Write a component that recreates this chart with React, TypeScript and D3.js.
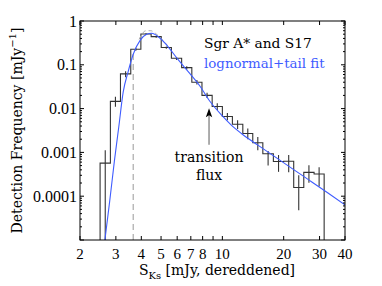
import React from 'react';
import * as d3 from 'd3';

// histogram bin edges (mJy) and detection frequencies (mJy^-1)
const binEdges = [2.51, 2.82, 3.16, 3.55, 3.98, 4.47, 5.01, 5.62, 6.31, 7.08, 7.94, 8.91, 10.0, 11.2, 12.6, 14.1, 15.8, 17.8, 20.0, 22.4, 25.1, 28.2, 31.6];
const freq = [0.00057, 0.0146, 0.062, 0.226, 0.505, 0.44, 0.248, 0.141, 0.086, 0.040, 0.020, 0.0112, 0.0066, 0.0044, 0.0027, 0.00166, 0.00093, 0.00062, 0.00063, 0.000158, 0.00035, 0.00032];
const errLow = [0, 0.011, 0.052, 0.209, 0.479, 0.417, 0.234, 0.129, 0.078, 0.0355, 0.0174, 0.0093, 0.0054, 0.0034, 0.0020, 0.00112, 0.0005, 0.00036, 0.00035, 0.000048, 0.000204, 0.000166];
const errHigh = [0.00112, 0.0186, 0.0708, 0.245, 0.525, 0.457, 0.263, 0.151, 0.093, 0.0447, 0.0229, 0.0132, 0.0079, 0.0054, 0.0035, 0.00224, 0.00107, 0.00087, 0.00087, 0.0003, 0.00051, 0.00046];

// lognormal + tail fit
const fitS = [2.65, 2.80, 2.95, 3.10, 3.26, 3.45, 3.65, 3.96, 4.25, 4.50, 4.85, 5.33, 6.08, 6.93, 7.8, 8.7, 10.0, 11.0, 12.4, 15.0, 18.0, 22.3, 27.0, 33.0, 40.0];
const fitF = [1e-5, 7.9e-5, 6.3e-4, 0.0038, 0.024, 0.071, 0.174, 0.372, 0.50, 0.525, 0.437, 0.282, 0.129, 0.063, 0.0316, 0.0145, 0.0068, 0.0043, 0.0027, 0.00145, 0.00081, 0.00041, 0.000224, 0.000118, 0.000063];

// lognormal component (grey dashed, visible near the peak)
const lognS = [3.9, 4.05, 4.22, 4.45, 4.7, 5.0, 5.4];
const lognF = [0.38, 0.52, 0.60, 0.60, 0.52, 0.40, 0.27];

const xTicks = [2, 3, 4, 5, 6, 7, 8, 9, 10, 20, 30, 40];
const xTickLabels = ['2', '3', '4', '5', '6', '7', '8', '', '10', '20', '30', '40'];
const yMajor = [1, 0.1, 0.01, 0.001, 0.0001, 0.00001];
const yTickLabels = ['1', '0.1', '0.01', '0.001', '0.0001', ''];

const cutFlux = 3.65;
const cutTop = 0.2;
const transitionFlux = 8.6;
const arrowTip = 0.0102;
const arrowBase = 0.0015;

export default function App() {
  const W = 382, H = 286;
  const L = 80, R = 345, T = 21, B = 240;
  const x = d3.scaleLog().domain([2, 40]).range([L, R]);
  const y = d3.scaleLog().domain([1e-5, 1]).range([B, T]).clamp(true);

  let hist = `M${x(binEdges[0])},${B}`;
  freq.forEach((f, i) => {
    hist += `L${x(binEdges[i])},${y(f)}L${x(binEdges[i + 1])},${y(f)}`;
  });
  hist += `L${x(binEdges[binEdges.length - 1])},${B}`;

  const line = d3.line<[number, number]>().x(d => x(d[0])).y(d => y(d[1])).curve(d3.curveMonotoneX);
  const fitPath = line(fitS.map((s, i) => [s, fitF[i]]) as [number, number][]) || '';
  const lognPath = line(lognS.map((s, i) => [s, lognF[i]]) as [number, number][]) || '';

  const yAll = y.ticks();
  const yMinor = yAll.filter(v => !yMajor.some(m => Math.abs(v / m - 1) < 1e-6));

  const serif = 'DejaVu Serif';
  const numFont = 'Liberation Serif';
  const blue = '#3f5cff';
  const ax = x(transitionFlux);
  const tipY = y(arrowTip);

  return (
    <svg width={W} height={H} style={{ position: 'absolute', left: 0, top: 0, background: '#fff' }}>
      <defs>
        <clipPath id="plotClip">
          <rect x={L} y={T} width={R - L} height={B - T} />
        </clipPath>
      </defs>
      <rect x={0} y={0} width={W} height={H} fill="#fff" />
      <g clipPath="url(#plotClip)">
        <line x1={x(cutFlux)} x2={x(cutFlux)} y1={B} y2={y(cutTop)} stroke="#aaa" strokeWidth={1.2} strokeDasharray="6,4" />
        <path d={hist} fill="none" stroke="#333" strokeWidth={1.1} />
        {freq.map((f, i) => {
          const cx = x(Math.sqrt(binEdges[i] * binEdges[i + 1]));
          return <line key={i} x1={cx} x2={cx} y1={y(Math.max(errLow[i], 1e-5))} y2={y(errHigh[i])} stroke="#333" strokeWidth={1.1} />;
        })}
        <path d={lognPath} fill="none" stroke="#aaa" strokeWidth={1} strokeDasharray="4,3" />
        <path d={fitPath} fill="none" stroke={blue} strokeWidth={1.1} />
      </g>

      {/* transition arrow */}
      <line x1={ax} x2={ax} y1={tipY + 7} y2={y(arrowBase)} stroke="#808080" strokeWidth={1.3} />
      <path d={`M${ax},${tipY}L${ax - 3.2},${tipY + 9}L${ax},${tipY + 7}L${ax + 3.2},${tipY + 9}Z`} fill="#000" />
      <text x={ax} y={161.5} textAnchor="middle" fontFamily={serif} fontSize={14}>transition</text>
      <text x={ax} y={180} textAnchor="middle" fontFamily={serif} fontSize={14}>flux</text>

      {/* legend */}
      <text x={204} y={48} fontFamily={serif} fontSize={13.8} fill="#000">Sgr A* and S17</text>
      <text x={204} y={68} fontFamily={serif} fontSize={13.4} fill={blue}>lognormal+tail fit</text>

      {/* box */}
      <rect x={L} y={T} width={R - L} height={B - T} fill="none" stroke="#000" strokeWidth={1} />

      {/* x ticks */}
      {xTicks.map((t, i) => (
        <g key={'xt' + i}>
          <line x1={x(t)} x2={x(t)} y1={B} y2={B - 4} stroke="#000" />
          <line x1={x(t)} x2={x(t)} y1={T} y2={T + 4} stroke="#000" />
          {xTickLabels[i] ? (
            <text x={x(t)} y={258.5} textAnchor="middle" fontFamily={numFont} fontSize={15}>{xTickLabels[i]}</text>
          ) : null}
        </g>
      ))}
      {/* y ticks */}
      {yMajor.map((t, i) => (
        <g key={'yt' + i}>
          <line x1={L} x2={L + 4} y1={y(t)} y2={y(t)} stroke="#000" />
          <line x1={R} x2={R - 4} y1={y(t)} y2={y(t)} stroke="#000" />
          {yTickLabels[i] ? (
            <text x={L - 3} y={y(t) + 5.5} textAnchor="end" fontFamily={numFont} fontSize={16}>{yTickLabels[i]}</text>
          ) : null}
        </g>
      ))}
      {yMinor.map((t, i) => (
        <g key={'ym' + i}>
          <line x1={L} x2={L + 2} y1={y(t)} y2={y(t)} stroke="#000" />
          <line x1={R} x2={R - 2} y1={y(t)} y2={y(t)} stroke="#000" />
        </g>
      ))}

      {/* axis labels */}
      <text x={217} y={274.5} textAnchor="middle" fontFamily={serif} fontSize={14}>
        S<tspan fontSize={10} dy={4}>Ks</tspan><tspan dy={-4}> [mJy, dereddened]</tspan>
      </text>
      <text transform={`translate(22,${(T + B) / 2}) rotate(-90)`} textAnchor="middle" fontFamily={serif} fontSize={14}>
        Detection Frequency [mJy<tspan fontSize={10} dy={-6}>−1</tspan><tspan dy={6}>]</tspan>
      </text>
    </svg>
  );
}
